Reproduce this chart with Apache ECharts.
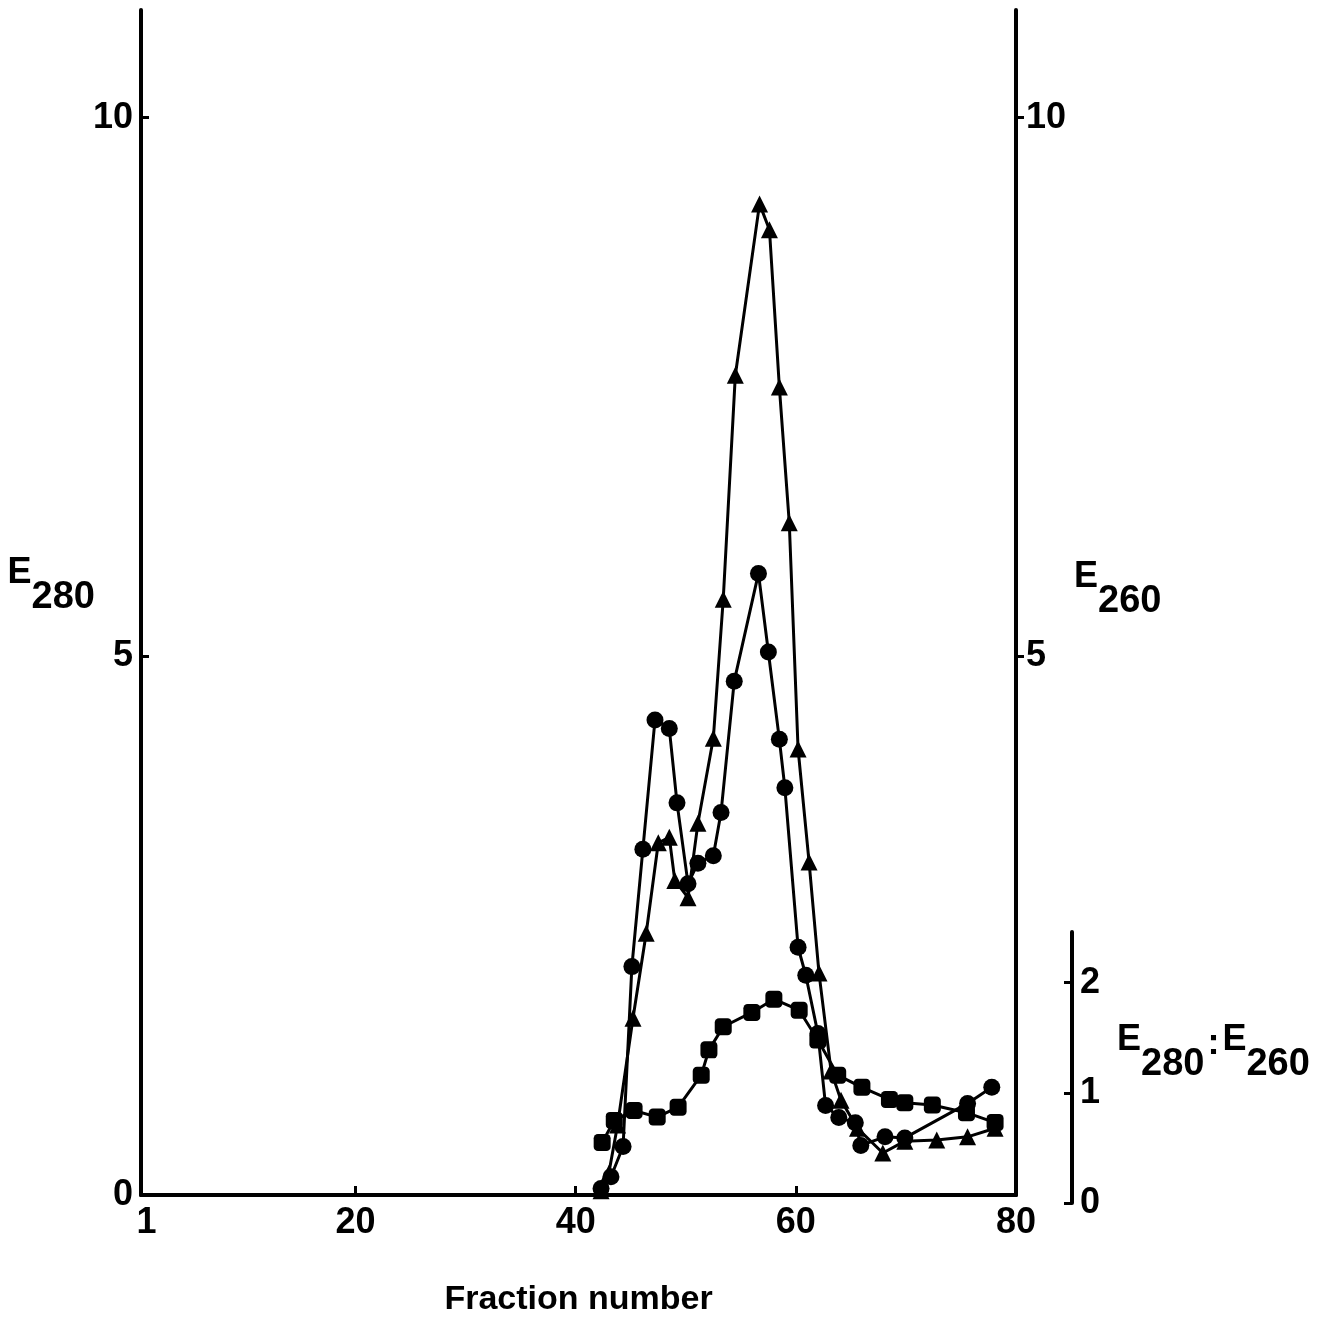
<!DOCTYPE html>
<html>
<head>
<meta charset="utf-8">
<script src="https://cdn.jsdelivr.net/npm/echarts@6/dist/echarts.min.js"></script>
<style>
  html, body { margin: 0; padding: 0; background: #fff; }
  #main { width: 1340px; height: 1321px; }
</style>
</head>
<body>
<div id="main"></div>
<script>
// fraction number, E280 (circles)
var e280 = [[42.3,0.06],[43.2,0.17],[44.3,0.45],[45.1,2.12],[46.1,3.21],[47.2,4.41],[48.5,4.33],[49.2,3.64],
  [50.2,2.89],[51.1,3.08],[52.5,3.15],[53.2,3.55],[54.4,4.77],[56.6,5.77],[57.5,5.04],[58.5,4.23],[59.0,3.78],
  [60.2,2.30],[60.9,2.04],[62.0,1.50],[62.7,0.83],[63.9,0.72],[65.4,0.67],[65.9,0.46],[68.1,0.54],[69.9,0.53],
  [75.6,0.85],[77.8,1.00]];
// fraction number, E260 (triangles)
var e260 = [[42.3,0.04],[43.0,0.20],[43.8,0.65],[45.2,1.64],[46.4,2.43],[47.5,3.27],[48.5,3.32],[49.0,2.92],
  [50.2,2.76],[51.1,3.45],[52.5,4.24],[53.4,5.53],[54.5,7.61],[56.7,9.20],[57.6,8.96],[58.5,7.50],[59.4,6.24],
  [60.2,4.14],[61.2,3.09],[62.1,2.06],[63.2,1.15],[64.1,0.88],[65.6,0.62],[67.9,0.39],[69.9,0.50],[72.8,0.51],
  [75.6,0.54],[78.1,0.62]];
// fraction number, E280:E260 (squares)
var ratio = [[42.4,0.55],[43.5,0.75],[45.3,0.84],[47.4,0.78],[49.3,0.87],[51.4,1.16],[52.1,1.39],[53.4,1.60],
  [56.0,1.73],[58.0,1.85],[60.3,1.75],[62.0,1.48],[63.8,1.16],[66.0,1.05],[68.5,0.94],[69.9,0.91],[72.4,0.89],
  [75.5,0.82],[78.1,0.73]];

var xLabels = [1, 20, 40, 60, 80];
var xTicks = [20, 40, 60];
var leftLabels = [0, 5, 10];
var rightLabels = [5, 10];
var ratioLabels = [0, 1, 2];

var font = "'Liberation Sans', Arial, sans-serif";
var black = '#000';

var dom = document.getElementById('main');
var myChart = echarts.init(dom);

var lbl = { color: black, fontFamily: font, fontWeight: 'bold', fontSize: 36 };
var subName = function () {
  return {
    color: black, fontFamily: font, fontWeight: 'bold',
    rich: {
      e: { fontSize: 36, fontWeight: 'bold', fontFamily: font, color: black, padding: [0, 0, 24, 0] },
      s: { fontSize: 38, fontWeight: 'bold', fontFamily: font, color: black, padding: [24, 0, 0, 0] },
      c: { fontSize: 36, fontWeight: 'bold', fontFamily: font, color: black, padding: [0, 3, 16, 3] }
    }
  };
};

var option = {
  backgroundColor: '#fff',
  animation: false,
  grid: [
    { left: 141, right: 324, top: 10, bottom: 126, outerBoundsMode: 'none' },
    { left: 141, right: 324, top: 932, bottom: 118, outerBoundsMode: 'none' }
  ],
  xAxis: [
    {
      type: 'value', gridIndex: 0, min: 0.5, max: 80,
      name: 'Fraction number', nameLocation: 'middle', nameGap: 88,
      nameTextStyle: { color: black, fontFamily: font, fontWeight: 'bold', fontSize: 34 },
      axisLine: { lineStyle: { color: black, width: 4 } },
      axisTick: { inside: true, length: 9, customValues: xTicks, lineStyle: { color: black, width: 3 } },
      axisLabel: Object.assign({ customValues: xLabels, margin: 10 }, lbl),
      splitLine: { show: false }
    },
    {
      type: 'value', gridIndex: 0, min: 0.5, max: 80, position: 'top',
      axisLine: { lineStyle: { color: black, width: 3 } },
      axisTick: { show: false }, axisLabel: { show: false }, splitLine: { show: false }
    },
    {
      type: 'value', gridIndex: 1, min: 0.5, max: 80, show: false
    }
  ],
  yAxis: [
    {
      type: 'value', gridIndex: 0, min: 0, max: 11, position: 'left',
      name: '{e|E}{s|280}', nameLocation: 'middle', nameRotate: 0, nameGap: 46, nameMoveOverlap: false,
      nameTextStyle: Object.assign(subName(), { padding: [0, 0, 34, 0] }),
      axisLine: { lineStyle: { color: black, width: 4 } },
      axisTick: { inside: true, length: 8, customValues: [5, 10], lineStyle: { color: black, width: 3 } },
      axisLabel: Object.assign({ customValues: leftLabels, margin: 8 }, lbl),
      splitLine: { show: false }
    },
    {
      type: 'value', gridIndex: 0, min: 0, max: 11, position: 'right',
      name: '{e|E}{s|260}', nameLocation: 'middle', nameRotate: 0, nameGap: 58,
      nameTextStyle: Object.assign(subName(), { padding: [0, 0, 26, 0] }),
      axisLine: { lineStyle: { color: black, width: 4 } },
      axisTick: { inside: false, length: 8, customValues: [5, 10], lineStyle: { color: black, width: 3 } },
      axisLabel: Object.assign({ customValues: rightLabels, margin: 10 }, lbl),
      splitLine: { show: false }
    },
    {
      type: 'value', gridIndex: 1, min: 0, max: 2.46, position: 'right', offset: 56,
      name: '{e|E}{s|280}{c|:}{e|E}{s|260}', nameLocation: 'middle', nameRotate: 0, nameGap: 45,
      nameTextStyle: Object.assign(subName(), { padding: [0, 0, 30, 0] }),
      axisLine: { lineStyle: { color: black, width: 4 } },
      axisTick: { inside: true, length: 8, customValues: ratioLabels, lineStyle: { color: black, width: 3 } },
      axisLabel: Object.assign({ customValues: ratioLabels, margin: 8 }, lbl),
      splitLine: { show: false }
    }
  ],
  series: [
    {
      name: 'E280', type: 'line', xAxisIndex: 0, yAxisIndex: 0, data: e280,
      symbol: 'circle', symbolSize: 17,
      itemStyle: { color: black }, lineStyle: { color: black, width: 3 }
    },
    {
      name: 'E260', type: 'line', xAxisIndex: 0, yAxisIndex: 0, data: e260,
      symbol: 'triangle', symbolSize: 17,
      itemStyle: { color: black }, lineStyle: { color: black, width: 3 }
    },
    {
      name: 'E280:E260', type: 'line', xAxisIndex: 2, yAxisIndex: 2, data: ratio,
      symbol: 'roundRect', symbolSize: 17,
      itemStyle: { color: black }, lineStyle: { color: black, width: 3 }
    }
  ]
};

if (option && typeof option === 'object') {
  myChart.setOption(option, true);
}
</script>
</body>
</html>
